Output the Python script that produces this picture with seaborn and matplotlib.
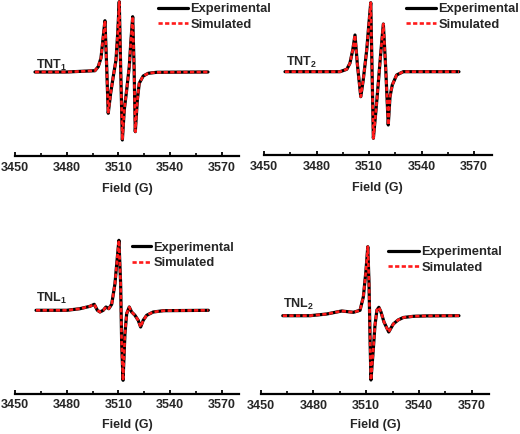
import matplotlib
matplotlib.use("Agg")
import matplotlib.pyplot as plt
import seaborn as sns
import pandas as pd

# ---------------- data ----------------
# Field (G) and first-derivative EPR intensity (arbitrary units)
tnt1_field = [3461.6, 3480.0, 3496.4, 3498.3, 3499.9, 3501.2, 3502.2, 3503.2, 3504.1,
              3505.5, 3507.0, 3508.6, 3509.6, 3510.5, 3511.3, 3512.3, 3513.4, 3514.8,
              3516.3, 3517.3, 3518.3, 3519.1, 3519.8, 3521.0, 3522.1, 3524.4, 3527.3,
              3532.2, 3562.0]
tnt1_signal = [0.0, 0.0, 1.3, 5.3, 14.0, 35.3, 51.3, 5.3, -41.3,
               -21.3, -4.7, 12.0, 38.7, 70.3, 5.3, -68.0, -38.0, -18.0,
               5.3, 32.0, 55.3, 5.3, -59.7, -28.0, -11.3, -4.0, -1.3,
               -0.3, 0.0]

tnt2_field = [3462.0, 3493.4, 3497.3, 3499.1, 3500.7, 3502.0, 3503.3, 3505.3, 3506.7,
              3508.7, 3509.8, 3511.0, 3511.7, 3512.5, 3514.0, 3515.3, 3516.7, 3518.2,
              3519.5, 3521.0, 3522.0, 3523.3, 3525.8, 3529.6, 3561.4]
tnt2_signal = [0.0, 0.0, 2.4, 8.4, 21.7, 36.7, 8.4, -25.0, -8.3,
               21.7, 45.0, 69.0, 5.0, -66.6, -38.3, -11.6, 18.4, 47.7,
               5.0, -53.3, -25.0, -13.3, -3.3, 0.0, 0.0]

tnl1_field = [3462.2, 3480.0, 3487.7, 3493.5, 3496.0, 3497.8, 3499.3, 3501.2, 3502.8,
              3504.4, 3506.1, 3508.0, 3509.4, 3510.3, 3511.3, 3511.9, 3512.7, 3513.8,
              3514.8, 3516.3, 3517.7, 3519.6, 3521.5, 3522.9, 3524.4, 3526.4, 3530.2,
              3536.1, 3562.2]
tnl1_signal = [0.0, 0.0, 1.6, 4.0, 6.0, 0.0, -1.7, 0.0, 3.3,
               1.6, 6.0, 26.6, 53.3, 70.0, 26.6, -33.4, -70.0, -23.4,
               -3.4, 3.3, -1.7, -5.0, -10.0, -16.7, -10.0, -5.0, -1.7,
               -0.4, 0.0]

tnl2_field = [3462.6, 3478.1, 3487.6, 3496.1, 3502.7, 3506.5, 3508.4, 3509.9, 3510.9,
              3511.6, 3512.2, 3512.7, 3514.0, 3515.0, 3516.1, 3517.2, 3518.4, 3520.1,
              3522.8, 3525.4, 3528.1, 3531.1, 3536.8, 3544.4, 3562.7]
tnl2_signal = [0.0, 0.0, 1.7, 4.7, 3.4, 5.4, 19.0, 45.7, 69.0,
               32.7, -24.3, -64.3, -34.3, -9.3, 5.7, 8.4, 3.7, -6.3,
               -16.3, -8.3, -4.3, -1.8, -0.6, -0.2, 0.0]

sample_names = ["TNT$_\\mathbf{1}$", "TNT$_\\mathbf{2}$", "TNL$_\\mathbf{1}$", "TNL$_\\mathbf{2}$"]
series_labels = ["Experimental", "Simulated"]
x_ticks = [3450, 3480, 3510, 3540, 3570]
x_minor_ticks = [3465, 3495, 3525, 3555]
x_label = "Field (G)"

# ---------------- style ----------------
sns.set_style("white")
plt.rcParams["font.family"] = ["Liberation Sans", "DejaVu Sans"]
plt.rcParams["font.weight"] = "bold"
plt.rcParams["mathtext.fontset"] = "custom"
plt.rcParams["mathtext.rm"] = "Liberation Sans"
plt.rcParams["mathtext.bf"] = "Liberation Sans:bold"

W, H = 520, 434
fig = plt.figure(figsize=(W / 100, H / 100), dpi=100)

def px_axes(x0, x1, ytop, ybot):
    return fig.add_axes([x0 / W, 1 - ybot / H, (x1 - x0) / W, (ybot - ytop) / H])

panels = [
    dict(field=tnt1_field, sig=tnt1_signal, x0=15, ppg=1.7233, yax=156, ytop=0, base=72.0,
         lx=158, ly=3.0, hl=2.3, tx=36, ty=65, lp=7),
    dict(field=tnt2_field, sig=tnt2_signal, x0=264, ppg=1.75, yax=155, ytop=0, base=71.7,
         lx=406, ly=3.0, hl=2.3, tx=286, ty=62, lp=7),
    dict(field=tnl1_field, sig=tnl1_signal, x0=15, ppg=1.7233, yax=393.5, ytop=230, base=310.3,
         lx=131.5, ly=241.5, hl=1.5, tx=36, ty=298, lp=5.5),
    dict(field=tnl2_field, sig=tnl2_signal, x0=260.6, ppg=1.76, yax=394, ytop=230, base=315.7,
         lx=388, ly=246, hl=2.4, tx=283, ty=304, lp=5.5),
]

xmax = 3580
for p, name in zip(panels, sample_names):
    x1 = p["x0"] + (xmax - 3450) * p["ppg"]
    ax = px_axes(p["x0"], x1, p["ytop"], p["yax"])
    df = pd.DataFrame({"field": p["field"], "signal": p["sig"]})
    sns.lineplot(data=df, x="field", y="signal", ax=ax, color="black", lw=2.3,
                 label=series_labels[0])
    sns.lineplot(data=df, x="field", y="signal", ax=ax, color="#ff1a1a", lw=1.9,
                 linestyle=(0, (1.6, 0.9)), label=series_labels[1])
    ax.set_xlim(3450, xmax)
    ax.set_ylim(p["base"] - p["yax"], p["base"] - p["ytop"])
    ax.set_xticks(x_ticks)
    ax.set_xticks(x_minor_ticks, minor=True)
    ax.set_yticks([])
    ax.set_ylabel("")
    ax.set_xlabel(x_label, fontsize=9, fontweight="bold", labelpad=p["lp"])
    for s in ["left", "right", "top"]:
        ax.spines[s].set_visible(False)
    ax.spines["bottom"].set_linewidth(1.6)
    ax.spines["bottom"].set_color("black")
    ax.tick_params(axis="x", which="major", direction="in", length=3, width=1.3,
                   labelsize=9, pad=4, color="black", bottom=True)
    ax.tick_params(axis="x", which="minor", direction="in", length=2.5, width=1.2,
                   color="black", bottom=True)
    for lab in ax.get_xticklabels():
        lab.set_fontweight("bold")
    ax.patch.set_alpha(0)
    ax.legend(loc="upper left", bbox_to_anchor=(p["lx"] / W, 1 - p["ly"] / H),
              bbox_transform=fig.transFigure, frameon=False, borderpad=0,
              borderaxespad=0, handlelength=p["hl"], handletextpad=0.2,
              labelspacing=0.3, prop=dict(size=9.3, weight="bold"))
    fig.text(p["tx"] / W, 1 - p["ty"] / H, name, fontsize=9, fontweight="bold",
             ha="left", va="center")

fig.savefig("out.png", dpi=100)
